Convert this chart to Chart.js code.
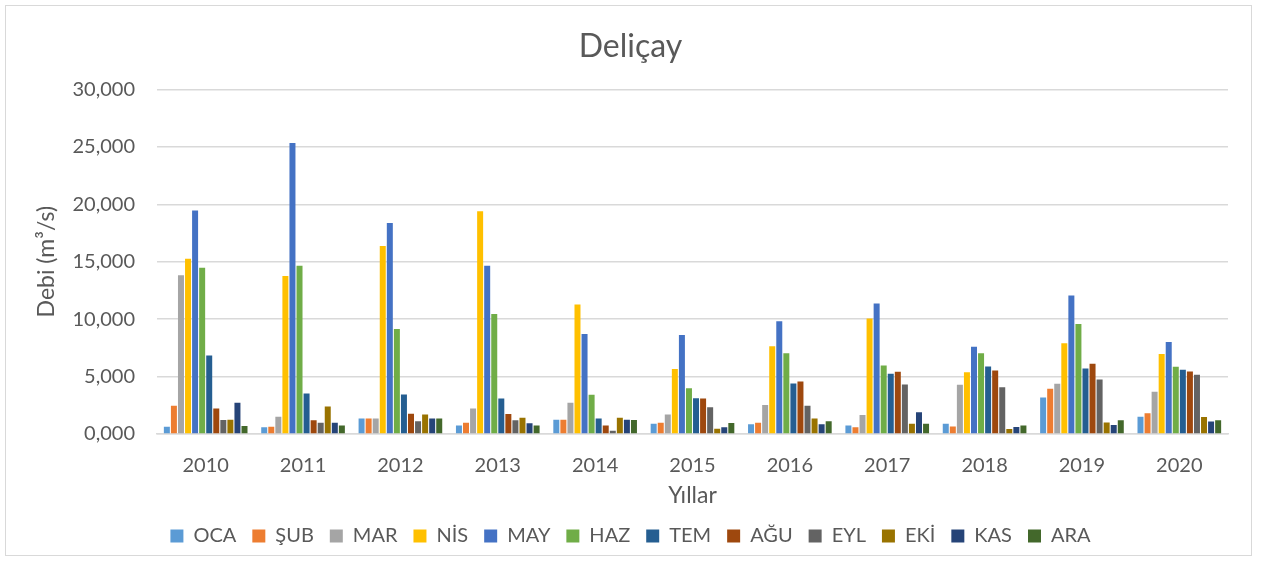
<!DOCTYPE html>
<html><head><meta charset="utf-8">
<script src="https://cdn.jsdelivr.net/npm/chart.js@4"></script>
<style>html,body{margin:0;padding:0;background:#fff}#wrap{width:1268px;height:561px;position:relative}</style>
</head><body><div id="wrap"><canvas id="c" width="1268" height="561"></canvas></div>
<script>
const years = ['2010','2011','2012','2013','2014','2015','2016','2017','2018','2019','2020'];
const months = ['OCA','ŞUB','MAR','NİS','MAY','HAZ','TEM','AĞU','EYL','EKİ','KAS','ARA'];
const colors = ['#5B9BD5','#ED7D31','#A5A5A5','#FFC000','#4472C4','#70AD47','#255E91','#9E480E','#636363','#997300','#264478','#43682B'];
const OCA = [0.64,0.58,1.34,0.73,1.25,0.90,0.84,0.73,0.90,3.17,1.51];
const SUB = [2.45,0.64,1.34,0.99,1.25,0.99,0.99,0.58,0.66,3.93,1.80];
const MAR = [13.83,1.51,1.34,2.21,2.71,1.69,2.53,1.66,4.28,4.37,3.67];
const NIS = [15.26,13.75,16.37,19.40,11.27,5.65,7.63,10.05,5.38,7.89,6.96];
const MAY = [19.45,25.34,18.38,14.65,8.70,8.62,9.81,11.36,7.60,12.06,8.01];
const HAZ = [14.47,14.65,9.14,10.45,3.41,3.99,7.04,5.97,7.02,9.58,5.86];
const TEM = [6.84,3.52,3.43,3.09,1.34,3.11,4.40,5.24,5.88,5.71,5.59];
const AGU = [2.21,1.19,1.77,1.75,0.73,3.09,4.57,5.42,5.53,6.12,5.45];
const EYL = [1.22,0.99,1.10,1.19,0.29,2.33,2.45,4.31,4.07,4.75,5.16];
const EKI = [1.25,2.39,1.69,1.42,1.42,0.46,1.34,0.90,0.44,1.01,1.49];
const KAS = [2.71,0.99,1.36,0.93,1.25,0.58,0.84,1.89,0.61,0.79,1.08];
const ARA = [0.70,0.73,1.34,0.73,1.22,0.96,1.10,0.90,0.73,1.19,1.19];
const yTicks = [0,5,10,15,20,25,30];
const series = [OCA,SUB,MAR,NIS,MAY,HAZ,TEM,AGU,EYL,EKI,KAS,ARA];

const FONT = 'Lato, "Open Sans", sans-serif';
const TXT = '#595959';

const borderPlugin = {
  id: 'outerBorder',
  beforeDraw(chart) {
    const ctx = chart.ctx;
    ctx.save();
    ctx.fillStyle = '#fff';
    ctx.fillRect(0,0,chart.width,chart.height);
    ctx.strokeStyle = '#d9d9d9';
    ctx.lineWidth = 1;
    ctx.strokeRect(5.5,5.5,1246,550);
    ctx.restore();
  }
};

new Chart(document.getElementById('c'), {
  type: 'bar',
  data: {
    labels: years,
    datasets: months.map((m,i) => ({
      label: m,
      data: series[i],
      backgroundColor: colors[i],
      borderWidth: 0,
      categoryPercentage: 0.87,
      barPercentage: 0.85
    }))
  },
  options: {
    responsive: false,
    animation: false,
    devicePixelRatio: 1,
    layout: { padding: { left: 33, right: 40, top: 27, bottom: 5 } },
    plugins: {
      title: { display: true, text: 'Deliçay', color: TXT, font: { family: FONT, size: 32, weight: 'normal' }, padding: { top: 0, bottom: 24 } },
      legend: {
        position: 'bottom',
        labels: { color: TXT, font: { family: FONT, size: 20 }, boxWidth: 13, boxHeight: 13, padding: 16 }
      },
      tooltip: { enabled: false }
    },
    scales: {
      x: {
        afterFit(axis) { axis.height -= 6; },
        grid: { display: false },
        border: { color: '#d9d9d9', width: 1.5 },
        ticks: { color: TXT, font: { family: FONT, size: 20, lineHeight: 1.0 }, padding: 14 },
        title: { display: true, text: 'Yıllar', color: TXT, font: { family: FONT, size: 23, lineHeight: 1.0 }, padding: { top: 0, bottom: 3 } }
      },
      y: {
        min: 0, max: 30,
        afterBuildTicks(axis) { axis.ticks = yTicks.map(v => ({ value: v })); },
        afterFit(axis) { axis.width = 124; },
        grid: { color: '#d9d9d9', lineWidth: 1.5, drawTicks: false },
        border: { display: false },
        ticks: { color: TXT, font: { family: FONT, size: 20 }, padding: 22,
          callback: v => v.toFixed(3).replace('.', ',') },
        title: { display: true, text: 'Debi (m³/s)', color: TXT, font: { family: FONT, size: 23 }, padding: { top: 0, bottom: 0 } }
      }
    }
  },
  plugins: [borderPlugin]
});
</script></body></html>
